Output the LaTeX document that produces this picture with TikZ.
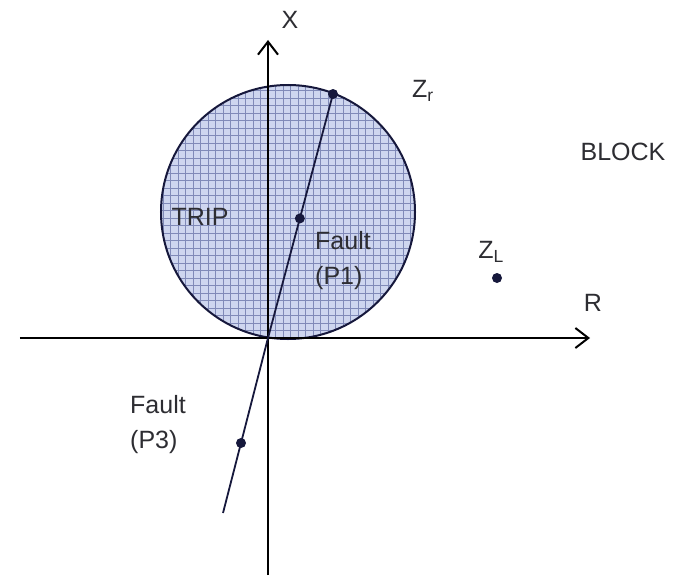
\documentclass[tikz,border=0pt]{standalone}
\usepackage{fontspec}
\setmainfont{Liberation Sans}
\usetikzlibrary{arrows.meta,calc}
\definecolor{tripfill}{RGB}{206,214,239}
\definecolor{tripgrid}{RGB}{128,138,184}
\definecolor{dotcol}{RGB}{22,24,60}
\definecolor{txtcol}{RGB}{45,45,50}

\begin{document}
\begin{tikzpicture}[x=1pt,y=1pt,
  axis/.style={line width=2.2pt,-{Straight Barb[length=13pt,width=20pt,line width=2pt]}},
  dot/.style={circle,fill=dotcol,inner sep=0pt,minimum size=10pt},
  lbl/.style={text=txtcol,font=\fontsize{25}{35}\selectfont,align=left}]
\useasboundingbox (-268,-241) rectangle (408,338);
\coordinate (O) at (0,0);
\coordinate (ctr) at (20,126);
% trip zone
\fill[tripfill] (ctr) circle (127);
\begin{scope}
\clip (ctr) circle (127);
\draw[tripgrid, line width=0.9pt, step=7.5] (-110,-5) grid (150,256);
\end{scope}
\draw[dotcol, line width=2pt] (ctr) circle (127);
% axes
\coordinate (xlo) at (0,-237);
\coordinate (xhi) at (0,298);
\coordinate (rlo) at (-248,0);
\coordinate (rhi) at (322,0);
\draw[axis] (xlo) -- (xhi);
\draw[axis] (rlo) -- (rhi);
% impedance line
\coordinate (Zr) at (65,244);
\coordinate (P3end) at (-45,-175);
\draw[dotcol, line width=1.8pt] (P3end) -- (O) -- (Zr);
\node[dot] (zr) at (Zr) {};
\node[dot] (p1) at ($(O)!0.49!(Zr)$) {};
\node[dot] (p3) at ($(O)!0.6!(P3end)$) {};
\node[dot] (zl) at (229,60) {};
% labels
\node[lbl] (xlab) at (22,318) {X};
\node[lbl] (rlab) at (325,35) {R};
\node[lbl] (zrlab) at (155,247) {Z\textsubscript{r}};
\node[lbl] (zllab) at (223,86) {Z\textsubscript{L}};
\node[lbl] (block) at (355,186) {BLOCK};
\node[lbl] (trip) at (-68,121) {TRIP};
\node[lbl] (f1) at (75,77) {Fault\\(P1)};
\node[lbl] (f3) at (-110,-87) {Fault\\(P3)};
\end{tikzpicture}
\end{document}
